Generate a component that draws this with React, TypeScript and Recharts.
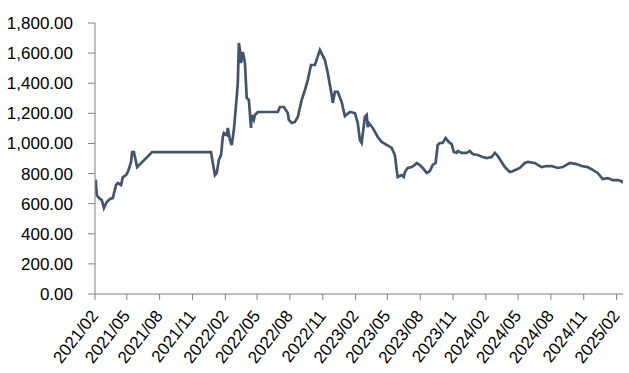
import { LineChart, Line, XAxis, YAxis } from 'recharts';

const dates = [
  '2021-02-03', '2021-02-06', '2021-02-12', '2021-02-20', '2021-02-26', '2021-03-06', '2021-03-15', '2021-03-23',
  '2021-04-01', '2021-04-06', '2021-04-15', '2021-04-20', '2021-04-29', '2021-05-04', '2021-05-13', '2021-05-16',
  '2021-05-21', '2021-05-30', '2021-07-11', '2021-12-23', '2021-12-28',
  '2022-01-03', '2022-01-08', '2022-01-14', '2022-01-20', '2022-01-25', '2022-01-28', '2022-02-05', '2022-02-08',
  '2022-02-14', '2022-02-19', '2022-02-25', '2022-03-05', '2022-03-08', '2022-03-11', '2022-03-14', '2022-03-17',
  '2022-03-22', '2022-03-25', '2022-03-28', '2022-04-02', '2022-04-08', '2022-04-14', '2022-04-16', '2022-04-22',
  '2022-04-25', '2022-05-03', '2022-06-28', '2022-07-04', '2022-07-15', '2022-07-26', '2022-07-29', '2022-08-06',
  '2022-08-15', '2022-08-23', '2022-09-03', '2022-09-12', '2022-09-20', '2022-09-29', '2022-10-10', '2022-10-24',
  '2022-11-07', '2022-11-15', '2022-11-26', '2022-11-29', '2022-12-05', '2022-12-13', '2022-12-24',
  '2023-01-02', '2023-01-16', '2023-01-30', '2023-02-07', '2023-02-13', '2023-02-18', '2023-02-27', '2023-03-04',
  '2023-03-07', '2023-03-10', '2023-03-21', '2023-04-04', '2023-04-15', '2023-04-29', '2023-05-13', '2023-05-22',
  '2023-05-27', '2023-05-30', '2023-06-10', '2023-06-16', '2023-06-19', '2023-06-27', '2023-07-08', '2023-07-17',
  '2023-07-22', '2023-07-31', '2023-08-08', '2023-08-19', '2023-08-28', '2023-09-05', '2023-09-13', '2023-09-19',
  '2023-09-25', '2023-10-03', '2023-10-11', '2023-10-20', '2023-10-28', '2023-11-03', '2023-11-11', '2023-11-14',
  '2023-11-25', '2023-12-09', '2023-12-18', '2023-12-26',
  '2024-01-09', '2024-01-23', '2024-02-03', '2024-02-17', '2024-02-26', '2024-03-05', '2024-03-16', '2024-03-25',
  '2024-04-08', '2024-04-16', '2024-05-06', '2024-05-20', '2024-05-28', '2024-06-17', '2024-07-06', '2024-07-20',
  '2024-08-03', '2024-08-20', '2024-09-03', '2024-09-23', '2024-10-12', '2024-10-26', '2024-11-12', '2024-11-26',
  '2024-12-10', '2024-12-24', '2025-01-07', '2025-01-21', '2025-02-04', '2025-02-15', '2025-02-18',
];

const values = [
  760, 658, 638, 624, 571, 611, 631, 638,
  724, 737, 724, 777, 790, 810, 877, 943,
  943, 843, 943, 943, 870,
  790, 804, 890, 923, 1043, 1069, 1056, 1103,
  1023, 990, 1089, 1309, 1401, 1667, 1621, 1534,
  1607, 1574, 1534, 1302, 1289, 1103, 1189, 1156,
  1189, 1209, 1209, 1242, 1242, 1202, 1156, 1136,
  1143, 1176, 1289, 1355, 1421, 1521, 1521, 1621,
  1554, 1468, 1322, 1269, 1342, 1342, 1275,
  1182, 1209, 1202, 1136, 1023, 1003, 1176, 1189,
  1109, 1136, 1103, 1043, 1010, 990, 970, 923,
  824, 777, 790, 777, 810, 837, 843, 857,
  870, 857, 837, 804, 817, 857, 870, 990,
  1003, 1003, 1036, 1010, 996, 943, 937, 950,
  937, 937, 950, 930,
  923, 910, 903, 910, 937, 917, 877, 843,
  810, 815, 837, 870, 877, 870, 843, 850,
  850, 837, 843, 870, 863, 850, 843, 824,
  804, 764, 770, 757, 757, 750, 737,
];

const tickDates = [
  '2021-02-01', '2021-05-01', '2021-08-01', '2021-11-01', '2022-02-01', '2022-05-01', '2022-08-01',
  '2022-11-01', '2023-02-01', '2023-05-01', '2023-08-01', '2023-11-01', '2024-02-01', '2024-05-01',
  '2024-08-01', '2024-11-01', '2025-02-01',
];

const yTicks = [0, 200, 400, 600, 800, 1000, 1200, 1400, 1600, 1800];

const toTs = (d: string) => Date.parse(d + 'T00:00:00Z');

const data = dates.map((d, i) => ({ t: toTs(d), value: values[i] }));
const xTicks = tickDates.map(toTs);
const xDomain = [toTs('2021-02-01'), toTs('2025-02-19')];

const FONT = '"Liberation Sans", Arial, sans-serif';

const fmtDate = (ts: number) => {
  const d = new Date(ts);
  const m = d.getUTCMonth() + 1;
  return `${d.getUTCFullYear()}/${m < 10 ? '0' + m : m}`;
};

const fmtValue = (v: number) =>
  v.toLocaleString('en-US', { minimumFractionDigits: 2, maximumFractionDigits: 2 });

// rotated date labels, end of text sits just right of and below the tick
const DateTick = (props: any) => {
  const { x, y, payload } = props;
  return (
    <g transform={`translate(${x + 4},${y + 14})`}>
      <text
        x={0}
        y={0}
        textAnchor="end"
        fill="#000"
        fontSize={17}
        fontFamily={FONT}
        transform="rotate(-52)"
      >
        {fmtDate(payload.value)}
      </text>
    </g>
  );
};

export default function App() {
  return (
    <div style={{ position: 'absolute', left: 0, top: 0, background: '#fff' }}>
      <LineChart width={629} height={373} data={data} margin={{ top: 23, right: 6, left: 0, bottom: 0 }}>
        <XAxis
          dataKey="t"
          type="number"
          domain={xDomain}
          ticks={xTicks}
          allowDataOverflow
          height={79}
          tickSize={6}
          stroke="#808080"
          tick={<DateTick />}
          interval={0}
        />
        <YAxis
          domain={[0, 1800]}
          ticks={yTicks}
          width={95}
          tickSize={7}
          tickMargin={15}
          stroke="#808080"
          tickFormatter={fmtValue}
          tick={{ fill: '#000', fontSize: 17, fontFamily: FONT }}
          interval={0}
        />
        <Line
          type="linear"
          dataKey="value"
          stroke="#44546A"
          strokeWidth={2.7}
          dot={false}
          isAnimationActive={false}
        />
      </LineChart>
    </div>
  );
}
